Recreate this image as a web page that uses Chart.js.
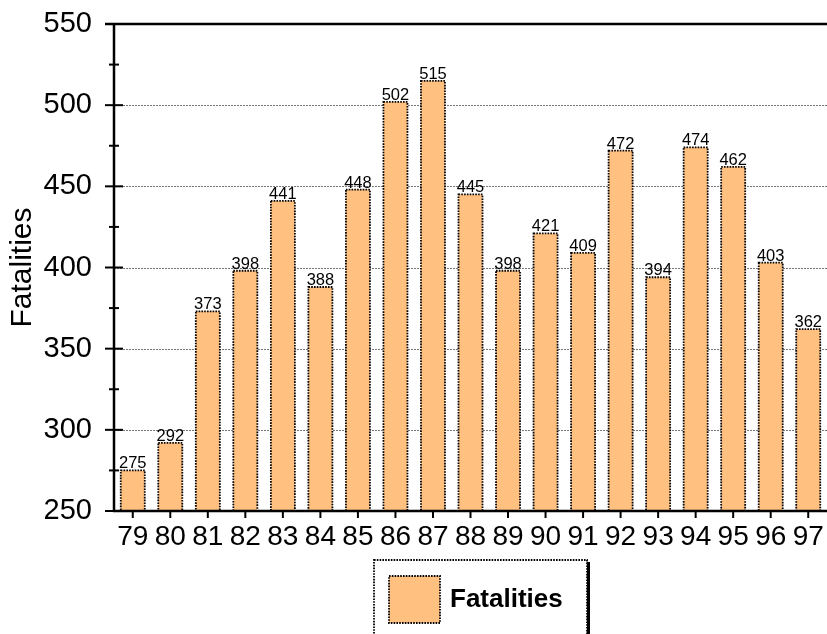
<!DOCTYPE html>
<html lang="en">
<head>
  <meta charset="UTF-8">
  <title>Fatalities</title>
  <style>
    html, body { margin: 0; padding: 0; background: #fff; }
    .wrapper { width: 827px; height: 634px; }
  </style>
</head>
<body>
  <div class="wrapper">
    <canvas id="barChart" width="827" height="634"></canvas>
  </div>

  <script src="https://cdn.jsdelivr.net/npm/chart.js"></script>
  <script>
    const years = ['79', '80', '81', '82', '83', '84', '85', '86', '87', '88', '89', '90', '91', '92', '93', '94', '95', '96', '97']
    const fatalities = [275, 292, 373, 398, 441, 388, 448, 502, 515, 445, 398, 421, 409, 472, 394, 474, 462, 403, 362]
    const yTicks = [250, 300, 350, 400, 450, 500, 550]

    const FONT = "'Liberation Sans', Arial, sans-serif"
    const barColor = '#FFC080'

    // dotted rectangle outline like the original
    function dottedRect(ctx, x, y, w, h) {
      ctx.save()
      ctx.strokeStyle = '#000'
      ctx.lineWidth = 1.8
      ctx.setLineDash([1.6, 1.2])
      ctx.strokeRect(x, y, w, h)
      ctx.restore()
    }

    const decor = {
      id: 'decor',
      beforeDatasetsDraw(chart) {
        const ctx = chart.ctx
        const a = chart.chartArea
        const y = chart.scales.y
        // dotted grid at inner major ticks
        ctx.save()
        ctx.strokeStyle = '#777'
        ctx.lineWidth = 1
        ctx.setLineDash([2, 1])
        yTicks.slice(1, -1).forEach(v => {
          const py = Math.round(y.getPixelForValue(v)) + 0.5
          ctx.beginPath()
          ctx.moveTo(a.left, py)
          ctx.lineTo(a.right, py)
          ctx.stroke()
        })
        ctx.restore()
      },
      afterDatasetsDraw(chart) {
        const ctx = chart.ctx
        const a = chart.chartArea
        const x = chart.scales.x
        const y = chart.scales.y
        const meta = chart.getDatasetMeta(0)

        // bar outlines + value labels
        meta.data.forEach((bar, i) => {
          const p = bar.getProps(['x', 'y', 'base', 'width'], true)
          const bottom = Math.min(p.base, a.bottom)
          dottedRect(ctx, p.x - p.width / 2, p.y, p.width, bottom - p.y)
          ctx.save()
          ctx.fillStyle = '#000'
          ctx.font = '16.5px ' + FONT
          ctx.textAlign = 'center'
          ctx.textBaseline = 'alphabetic'
          ctx.fillText(fatalities[i], p.x, p.y - 2)
          ctx.restore()
        })

        ctx.save()
        ctx.strokeStyle = '#000'
        ctx.lineWidth = 2.5
        // left axis, bottom axis, top line
        ctx.beginPath()
        ctx.moveTo(a.left, a.top)
        ctx.lineTo(a.left, a.bottom)
        ctx.moveTo(a.left - 1, a.bottom)
        ctx.lineTo(a.right, a.bottom)
        ctx.moveTo(a.left - 9, a.top)
        ctx.lineTo(a.right, a.top)
        ctx.stroke()

        // y ticks crossing the axis, minor every 25
        ctx.lineWidth = 2
        for (let v = 250; v <= 550; v += 25) {
          const py = y.getPixelForValue(v)
          const len = (v % 50 === 0) ? 9 : 5
          ctx.beginPath()
          ctx.moveTo(a.left - len, py)
          ctx.lineTo(a.left + len, py)
          ctx.stroke()
        }
        // x ticks pointing down
        years.forEach((yr, i) => {
          const px = x.getPixelForValue(i)
          ctx.beginPath()
          ctx.moveTo(px, a.bottom)
          ctx.lineTo(px, a.bottom + 7)
          ctx.stroke()
        })
        ctx.restore()

        // legend box
        ctx.save()
        ctx.fillStyle = '#000'
        ctx.fillRect(587, 562, 3, 80)
        ctx.fillStyle = '#fff'
        ctx.fillRect(374, 560, 213, 80)
        dottedRect(ctx, 374, 560, 213, 80)
        ctx.fillStyle = barColor
        ctx.fillRect(389, 576, 51, 47)
        dottedRect(ctx, 389, 576, 51, 47)
        ctx.fillStyle = '#000'
        ctx.font = 'bold 26px ' + FONT
        ctx.textAlign = 'left'
        ctx.textBaseline = 'middle'
        ctx.fillText('Fatalities', 450, 600)
        ctx.restore()
      }
    }

    const config = {
      type: 'bar',
      data: {
        labels: years,
        datasets: [{
          label: 'Fatalities',
          data: fatalities,
          backgroundColor: barColor,
          borderWidth: 0,
          barPercentage: 0.64,
          categoryPercentage: 1
        }]
      },
      options: {
        responsive: false,
        animation: false,
        layout: { padding: { top: 24, right: 0, left: 0, bottom: 0 } },
        plugins: {
          legend: { display: false },
          tooltip: { enabled: false }
        },
        scales: {
          x: {
            grid: { display: false, drawTicks: false },
            border: { display: false },
            ticks: { color: '#000', font: { family: FONT, size: 28 }, padding: 9, maxRotation: 0, autoSkip: false },
            afterFit(scale) {
              scale.height = 123
              scale.paddingLeft = 0
              scale.paddingRight = 0
            }
          },
          y: {
            min: 250,
            max: 550,
            grid: { display: false, drawTicks: false },
            border: { display: false },
            ticks: { stepSize: 50, color: '#000', font: { family: FONT, size: 29 }, padding: 22 },
            title: { display: true, text: 'Fatalities', color: '#000', font: { family: FONT, size: 30 }, padding: { top: 5, bottom: 0 } },
            afterFit(scale) {
              scale.width = 114
              scale.paddingTop = 0
              scale.paddingBottom = 0
            }
          }
        }
      },
      plugins: [decor]
    }

    const chart = new Chart(document.getElementById('barChart'), config)
  </script>
</body>
</html>
